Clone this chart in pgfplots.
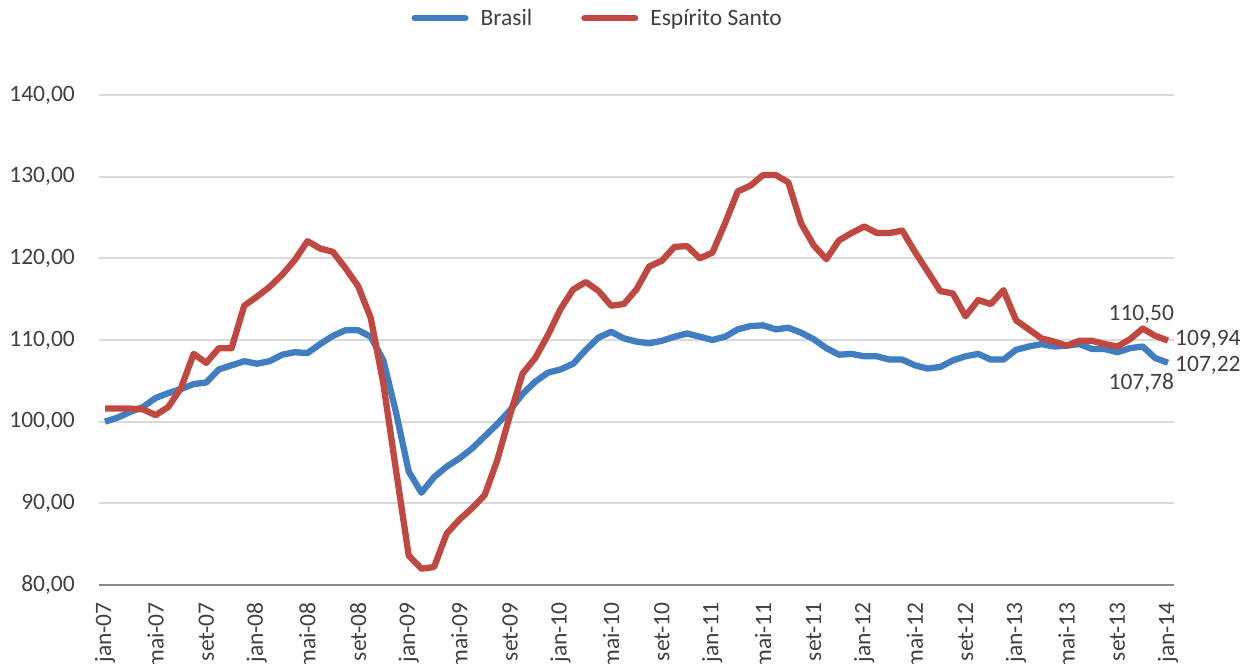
\documentclass[border=0pt]{standalone}
\usepackage{pgfplots}
\pgfplotsset{compat=1.18}
\usepackage{pgfplotstable}
\usepackage{fontspec}
\setmainfont{Carlito}
\definecolor{bra}{RGB}{65,125,193}
\definecolor{esp}{RGB}{192,72,65}
\definecolor{grd}{RGB}{217,217,217}
\definecolor{axl}{RGB}{137,137,137}
\definecolor{txt}{RGB}{64,64,64}
\newcommand\chartfont{\fontsize{23.5}{28}\selectfont}

\pgfplotstableread{
i bra esp
0 100.0 101.6
1 100.5 101.6
2 101.2 101.6
3 101.8 101.5
4 102.9 100.8
5 103.5 101.8
6 104.0 104.1
7 104.6 108.3
8 104.8 107.2
9 106.4 109.0
10 106.9 109.0
11 107.4 114.2
12 107.1 115.3
13 107.4 116.5
14 108.2 118.0
15 108.5 119.8
16 108.4 122.1
17 109.5 121.2
18 110.5 120.8
19 111.2 118.8
20 111.2 116.6
21 110.4 112.7
22 107.5 104.6
23 101.1 94.0
24 93.9 83.6
25 91.3 82.0
26 93.2 82.2
27 94.5 86.3
28 95.5 88.0
29 96.7 89.4
30 98.2 91.0
31 99.7 95.3
32 101.4 100.8
33 103.4 105.9
34 104.9 107.8
35 106.0 110.6
36 106.4 113.8
37 107.1 116.2
38 108.8 117.1
39 110.3 116.0
40 111.0 114.2
41 110.2 114.4
42 109.8 116.2
43 109.6 119.0
44 109.9 119.7
45 110.4 121.4
46 110.8 121.5
47 110.4 120.0
48 110.0 120.7
49 110.4 124.3
50 111.3 128.2
51 111.7 128.9
52 111.8 130.2
53 111.3 130.2
54 111.5 129.3
55 110.9 124.3
56 110.1 121.6
57 109.0 119.9
58 108.2 122.2
59 108.3 123.1
60 108.0 123.9
61 108.0 123.1
62 107.6 123.1
63 107.6 123.4
64 106.9 120.8
65 106.5 118.4
66 106.7 116.0
67 107.5 115.7
68 108.0 112.9
69 108.3 114.9
70 107.6 114.4
71 107.6 116.1
72 108.8 112.4
73 109.2 111.3
74 109.5 110.2
75 109.2 109.8
76 109.3 109.3
77 109.5 109.9
78 108.9 109.9
79 108.9 109.5
80 108.5 109.2
81 109.0 110.1
82 109.2 111.4
83 107.78 110.50
84 107.22 109.94
}\data

\begin{document}
\begin{tikzpicture}
\path[use as bounding box] (0,0) rectangle (1254pt,664pt);
\begin{axis}[
 at={(98.7pt,79pt)}, anchor=south west,
 scale only axis, width=1075.6pt, height=490pt,
 xmin=-0.5, xmax=84.5, ymin=80, ymax=140,
 xtick={0,4,...,84},
 xticklabels={jan-07,mai-07,set-07,jan-08,mai-08,set-08,jan-09,mai-09,set-09,jan-10,mai-10,set-10,jan-11,mai-11,set-11,jan-12,mai-12,set-12,jan-13,mai-13,set-13,jan-14},
 ytick={80,90,...,140},
 yticklabels={{80,00},{90,00},{100,00},{110,00},{120,00},{130,00},{140,00}},
 ymajorgrids, major grid style={grd, line width=1.8pt},
 axis x line*=bottom, axis y line*=left,
 y axis line style={draw=none},
 x axis line style={axl, line width=2.5pt},
 major tick length=0pt,
 tick label style={font=\chartfont, text=txt},
 xticklabel style={rotate=90, anchor=east, inner sep=0pt},
 xticklabel shift=17pt,
 yticklabel style={anchor=east, inner sep=0pt},
 yticklabel shift=23.7pt,
 clip=false,
 legend style={at={(rel axis cs:0.463,1.157)}, anchor=center, draw=none, fill=none,
   legend columns=2, font=\chartfont, text=txt,
   nodes={inner sep=0pt},
   /tikz/every odd column/.append style={column sep=12pt},
   /tikz/every even column/.append style={column sep=49pt}},
 legend image code/.code={\draw[#1, line width=6pt, line cap=round] (3pt,0pt) -- (54pt,0pt);},
]
\addplot[bra, line width=6.3pt, line join=round] table[x=i,y=bra]{\data};
\addlegendentry{Brasil}
\addplot[esp, line width=6.3pt, line join=round] table[x=i,y=esp]{\data};
\addlegendentry{Espírito Santo}
\node[font=\chartfont, text=txt, anchor=base, inner sep=0pt, xshift=-14pt, yshift=15.7pt] at (axis cs:83,110.5) {110,50};
\node[font=\chartfont, text=txt, anchor=base west, inner sep=0pt, xshift=7pt, yshift=-5pt] at (axis cs:84,109.94) {109,94};
\node[font=\chartfont, text=txt, anchor=base west, inner sep=0pt, xshift=7pt, yshift=-9pt] at (axis cs:84,107.22) {107,22};
\node[font=\chartfont, text=txt, anchor=base, inner sep=0pt, xshift=-14pt, yshift=-31pt] at (axis cs:83,107.78) {107,78};
\end{axis}
\end{tikzpicture}
\end{document}
